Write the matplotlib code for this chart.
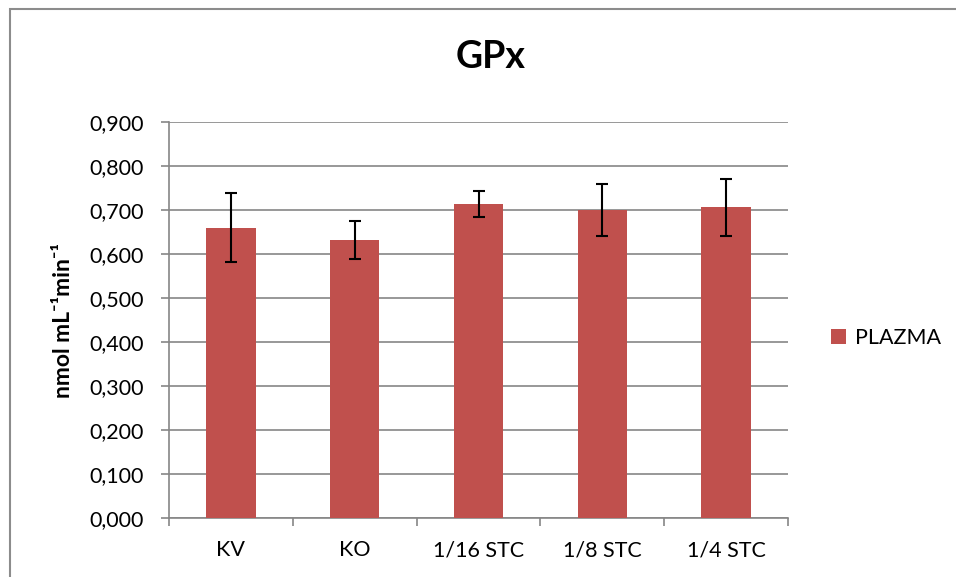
import numpy as np
import matplotlib
matplotlib.use("Agg")
import matplotlib.pyplot as plt
from matplotlib.patches import Rectangle
from matplotlib.ticker import FuncFormatter

plt.rcParams['font.family'] = ['Lato', 'DejaVu Sans']

# podaci
groups = ["KV", "KO", "1/16 STC", "1/8 STC", "1/4 STC"]
gpx = [0.660, 0.632, 0.714, 0.700, 0.706]
gpx_err = [0.078, 0.044, 0.029, 0.059, 0.064]
series = "PLAZMA"

fig = plt.figure(figsize=(9.56, 5.77), dpi=100)
ax = fig.add_axes([169/956, 1 - 518/577, (788 - 169)/956, (518 - 122)/577])

x = np.arange(len(groups))
ax.bar(x, gpx, width=0.4, color="#C0504D", label=series, zorder=3)
ax.errorbar(x, gpx, yerr=gpx_err, fmt="none", ecolor="black",
            elinewidth=1.5, capsize=4.5, capthick=1.5, zorder=4)

ax.set_xlim(-0.5, len(groups) - 0.5)
ax.set_ylim(0, 0.9)
ax.set_yticks(np.arange(0, 0.91, 0.1))
ax.yaxis.set_major_formatter(FuncFormatter(lambda v, p: f"{v:.3f}".replace(".", ",")))
ax.set_xticks(x)
ax.set_xticklabels(groups)
ax.set_xticks(np.arange(-0.5, len(groups)), minor=True)

ax.grid(axis="y", color="#868686", lw=1.2, zorder=0)
for s in ["top", "right"]:
    ax.spines[s].set_visible(False)
for s in ["left", "bottom"]:
    ax.spines[s].set_color("#868686")
    ax.spines[s].set_linewidth(1.2)

ax.tick_params(axis="y", length=6, width=1.2, color="#868686", pad=12, labelsize=15.5)
ax.tick_params(axis="x", which="major", length=0, pad=16, labelsize=15.5)
ax.tick_params(axis="x", which="minor", length=6, width=1.2, color="#868686")

ax.set_ylabel("nmol mL⁻¹min⁻¹", fontsize=16.5, fontweight="bold", labelpad=11)

fig.text(491/956, 1 - 57/577, "GPx", ha="center", va="center", fontsize=27, fontweight="bold")

fig.legend(loc="center left", bbox_to_anchor=(812/956, 1 - 338/577), frameon=False,
           fontsize=15.5, handlelength=0.7, handleheight=0.7, handletextpad=0.4)

fig.patches.append(Rectangle((10/956, -0.1), 1.2, 1 - 9/577 + 0.1, transform=fig.transFigure,
                             fill=False, edgecolor="#8c8c8c", lw=1.5, clip_on=False))

fig.savefig("out.png", dpi=100)
